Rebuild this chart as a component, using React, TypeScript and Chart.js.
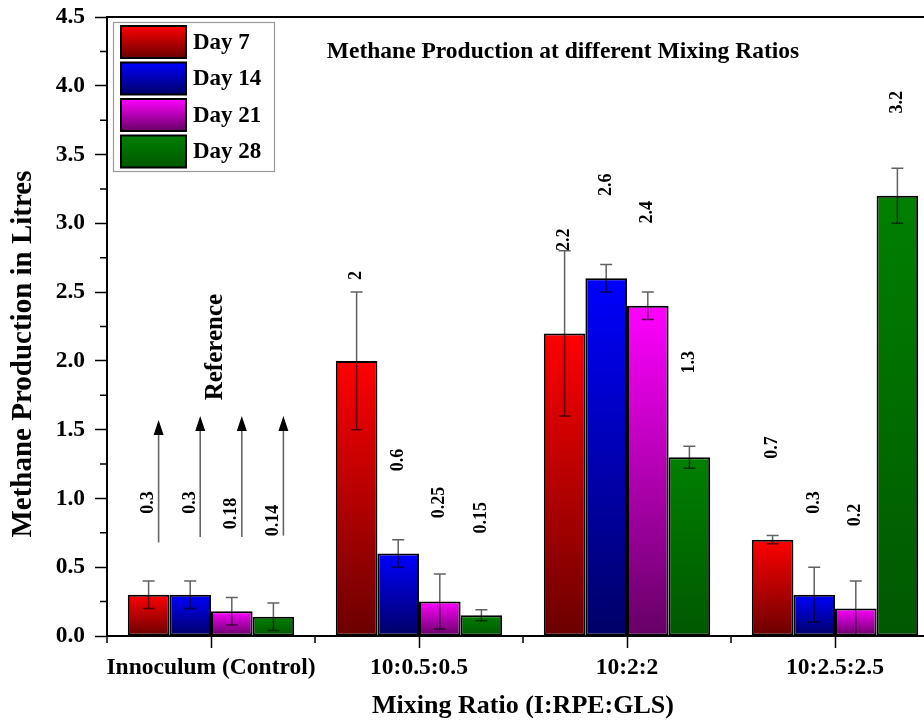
import React, { useEffect, useRef } from 'react';
import { Chart, registerables } from 'chart.js';

Chart.register(...registerables);

const categories = ['Innoculum (Control)', '10:0.5:0.5', '10:2:2', '10:2.5:2.5'];
const seriesNames = ['Day 7', 'Day 14', 'Day 21', 'Day 28'];

const day7 = [0.3, 2.0, 2.2, 0.7];
const day14 = [0.3, 0.6, 2.6, 0.3];
const day21 = [0.18, 0.25, 2.4, 0.2];
const day28 = [0.14, 0.15, 1.3, 3.2];

const day7Err = [0.1, 0.5, 0.6, 0.03];
const day14Err = [0.1, 0.1, 0.1, 0.2];
const day21Err = [0.1, 0.2, 0.1, 0.2];
const day28Err = [0.1, 0.04, 0.08, 0.2];

// height (in axis units) where each rotated value label is centred
const day7LabelAt = [0.97, 2.62, 2.88, 1.37];
const day14LabelAt = [0.97, 1.28, 3.28, 0.97];
const day21LabelAt = [0.89, 0.97, 3.08, 0.88];
const day28LabelAt = [0.84, 0.86, 1.99, 3.88];

// "Reference" arrows over the control group (axis units)
const arrowFrom = [0.68, 0.72, 0.72, 0.73];
const arrowTo = [1.57, 1.6, 1.6, 1.6];
const referenceAt = 2.1;

const yTicks = [0, 0.5, 1, 1.5, 2, 2.5, 3, 3.5, 4, 4.5];

const titleText = 'Methane Production at different Mixing Ratios';
const yTitle = 'Methane Production in Litres';
const xTitle = 'Mixing Ratio (I:RPE:GLS)';

const FONT = "'Liberation Serif', 'Times New Roman', serif";

const topColors = ['#ff0000', '#0000ff', '#ff00ff', '#008000'];
const bottomColors = ['#6a0000', '#000066', '#660066', '#005800'];

const values = [day7, day14, day21, day28];
const errors = [day7Err, day14Err, day21Err, day28Err];
const labelAts = [day7LabelAt, day14LabelAt, day21LabelAt, day28LabelAt];

const makeFill = (i: number) => (ctx: any) => {
  const chart = ctx.chart;
  const ys = chart.scales && chart.scales.y;
  if (!chart.chartArea || !ys || ctx.type !== 'data') return topColors[i];
  const yTop = ys.getPixelForValue(ctx.raw);
  const yBot = ys.getPixelForValue(0);
  if (!isFinite(yTop) || yBot - yTop < 1) return topColors[i];
  const g = chart.ctx.createLinearGradient(0, yTop, 0, yBot);
  g.addColorStop(0, topColors[i]);
  g.addColorStop(1, bottomColors[i]);
  return g;
};

const decor = {
  id: 'decor',
  afterDatasetsDraw(chart: any) {
    const ctx = chart.ctx;
    const ys = chart.scales.y;
    ctx.save();
    // error bars
    values.forEach((vals, i) => {
      const meta = chart.getDatasetMeta(i);
      meta.data.forEach((el: any, j: number) => {
        const x = el.x;
        const hi = ys.getPixelForValue(vals[j] + errors[i][j]);
        const lo = ys.getPixelForValue(Math.max(0, vals[j] - errors[i][j]));
        ctx.strokeStyle = 'rgba(0,0,0,0.62)';
        ctx.lineWidth = 1.5;
        ctx.beginPath();
        ctx.moveTo(x, hi);
        ctx.lineTo(x, lo);
        ctx.moveTo(x - 6, hi);
        ctx.lineTo(x + 6, hi);
        ctx.moveTo(x - 6, lo);
        ctx.lineTo(x + 6, lo);
        ctx.stroke();
      });
    });
    // value labels
    ctx.fillStyle = '#000';
    ctx.font = `bold 18px ${FONT}`;
    ctx.textAlign = 'center';
    ctx.textBaseline = 'middle';
    values.forEach((vals, i) => {
      const meta = chart.getDatasetMeta(i);
      meta.data.forEach((el: any, j: number) => {
        const y = ys.getPixelForValue(labelAts[i][j]);
        ctx.save();
        ctx.translate(el.x, y);
        ctx.rotate(-Math.PI / 2);
        ctx.fillText(String(vals[j]), 0, 0);
        ctx.restore();
      });
    });
    // reference arrows (first category)
    values.forEach((_, i) => {
      const el = chart.getDatasetMeta(i).data[0];
      const x = el.x + 10;
      const y0 = ys.getPixelForValue(arrowFrom[i]);
      const y1 = ys.getPixelForValue(arrowTo[i]);
      ctx.strokeStyle = '#666';
      ctx.lineWidth = 1.6;
      ctx.beginPath();
      ctx.moveTo(x, y0);
      ctx.lineTo(x, y1 + 12);
      ctx.stroke();
      ctx.fillStyle = '#000';
      ctx.beginPath();
      ctx.moveTo(x, y1);
      ctx.lineTo(x - 5, y1 + 15);
      ctx.lineTo(x + 5, y1 + 15);
      ctx.closePath();
      ctx.fill();
    });
    // "Reference"
    const xs = chart.scales.x;
    ctx.fillStyle = '#000';
    ctx.font = `bold 25px ${FONT}`;
    ctx.save();
    ctx.translate(xs.getPixelForValue(0) + 5, ys.getPixelForValue(referenceAt));
    ctx.rotate(-Math.PI / 2);
    ctx.fillText('Reference', 0, 0);
    ctx.restore();
    ctx.restore();
  },
  afterDraw(chart: any) {
    const ctx = chart.ctx;
    const { left, right, top, bottom } = chart.chartArea;
    const ys = chart.scales.y;
    const xs = chart.scales.x;
    ctx.save();
    // top frame line
    ctx.strokeStyle = '#000';
    ctx.lineWidth = 2;
    ctx.beginPath();
    ctx.moveTo(left - 1, top);
    ctx.lineTo(right, top);
    ctx.stroke();
    // minor ticks on y
    ctx.lineWidth = 1.5;
    ctx.beginPath();
    for (let k = 0; k < yTicks.length - 1; k++) {
      const v = (yTicks[k] + yTicks[k + 1]) / 2;
      const y = ys.getPixelForValue(v);
      ctx.moveTo(left - 7, y);
      ctx.lineTo(left, y);
    }
    // minor ticks on x (category boundaries)
    const step = (right - left) / categories.length;
    for (let k = 0; k <= categories.length; k++) {
      const x = xs.getPixelForValue(0) - step / 2 + k * step;
      ctx.moveTo(x, bottom);
      ctx.lineTo(x, bottom + 7);
    }
    ctx.stroke();

    ctx.fillStyle = '#000';
    ctx.textAlign = 'center';
    ctx.textBaseline = 'middle';

    // y axis title (centred a little below the plot middle, as in the source)
    ctx.font = `bold 29px ${FONT}`;
    ctx.save();
    ctx.translate(23.5, ys.getPixelForValue(2.05));
    ctx.rotate(-Math.PI / 2);
    ctx.fillText(yTitle, 0, 0);
    ctx.restore();

    // title
    ctx.font = `bold 23.5px ${FONT}`;
    ctx.fillText(titleText, left + 456, top + 35);

    // legend
    const bx = left + 6;
    const by = top + 5;
    ctx.strokeStyle = '#999';
    ctx.lineWidth = 1.2;
    ctx.strokeRect(bx + 0.5, by + 0.5, 161, 149);
    seriesNames.forEach((name, i) => {
      const sy = by + 4 + i * 36.5;
      const g = ctx.createLinearGradient(0, sy, 0, sy + 32);
      g.addColorStop(0, topColors[i]);
      g.addColorStop(1, bottomColors[i]);
      ctx.fillStyle = g;
      ctx.fillRect(bx + 8, sy, 65, 32);
      ctx.strokeStyle = '#000';
      ctx.lineWidth = 2;
      ctx.strokeRect(bx + 8, sy, 65, 32);
      ctx.fillStyle = '#000';
      ctx.font = `bold 23px ${FONT}`;
      ctx.textAlign = 'left';
      ctx.textBaseline = 'middle';
      ctx.fillText(name, bx + 80, sy + 17);
    });
    ctx.restore();
  },
};

export default function App() {
  const ref = useRef<HTMLCanvasElement | null>(null);
  useEffect(() => {
    if (!ref.current) return;
    const chart = new Chart(ref.current, {
      type: 'bar',
      data: {
        labels: categories,
        datasets: seriesNames.map((name, i) => ({
          label: name,
          data: values[i],
          backgroundColor: makeFill(i),
          borderColor: '#000',
          borderWidth: 2,
          borderSkipped: false,
          categoryPercentage: 0.8,
          barPercentage: 1.0,
        })),
      },
      options: {
        animation: false,
        responsive: false,
        devicePixelRatio: 1,
        layout: { padding: { left: 0, top: 17, right: 21, bottom: 0 } },
        plugins: {
          legend: { display: false },
          tooltip: { enabled: false },
          title: { display: false },
        },
        scales: {
          x: {
            offset: true,
            grid: {
              offset: false,
              drawOnChartArea: false,
              tickLength: 12,
              tickColor: '#000',
              tickWidth: 1.5,
            },
            border: { color: '#000', width: 2 },
            ticks: {
              color: '#000',
              padding: 6,
              maxRotation: 0,
              autoSkip: false,
              font: { family: FONT, size: 23.5, weight: 'bold' },
            },
            title: {
              display: true,
              text: xTitle,
              color: '#000',
              padding: { top: 0, bottom: 0 },
              font: { family: FONT, size: 26, weight: 'bold' },
            },
            afterFit(scale: any) {
              scale.height = 86;
              scale.paddingLeft = 0;
              scale.paddingRight = 0;
            },
          },
          y: {
            min: 0,
            max: 4.5,
            afterBuildTicks(scale: any) {
              scale.ticks = yTicks.map((v) => ({ value: v }));
            },
            grid: {
              drawOnChartArea: false,
              tickLength: 12,
              tickColor: '#000',
              tickWidth: 1.5,
            },
            border: { color: '#000', width: 2 },
            ticks: {
              color: '#000',
              padding: 10,
              callback: (v: any) => Number(v).toFixed(1),
              font: { family: FONT, size: 23.5, weight: 'bold' },
            },
            title: { display: false },
            afterFit(scale: any) {
              scale.width = 107;
              scale.paddingTop = 0;
              scale.paddingBottom = 0;
            },
          },
        },
      },
      plugins: [decor],
    } as any);
    return () => chart.destroy();
  }, []);
  return (
    <div
      style={{
        position: 'fixed',
        left: 0,
        top: 0,
        width: 924,
        height: 722,
        overflow: 'hidden',
        background: '#fff',
      }}
    >
      <canvas ref={ref} width={960} height={722} style={{ display: 'block', width: 960, height: 722 }} />
    </div>
  );
}
